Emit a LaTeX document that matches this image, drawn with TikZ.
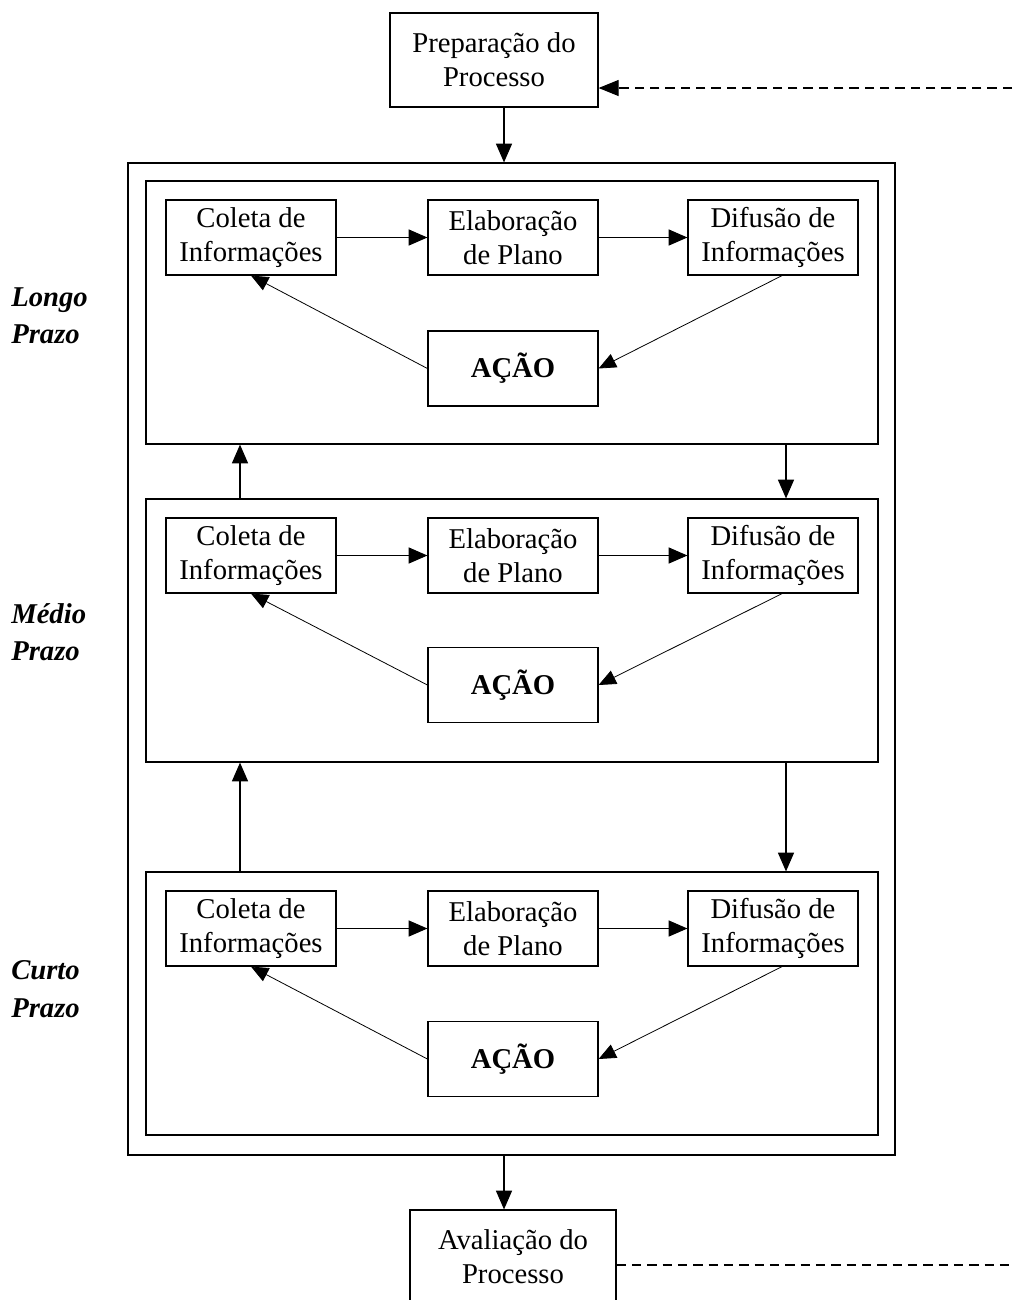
\documentclass[tikz,border=0pt]{standalone}
\usepackage{fontspec}
\setmainfont{Liberation Serif}
\usetikzlibrary{arrows.meta}
\tikzset{
  box/.style={draw, line width=0.9pt, align=center, inner sep=0pt, font=\fontsize{21.5}{25.5}\selectfont},
  small/.style={box, minimum width=127.5pt, minimum height=56.25pt},
  panel/.style={draw, line width=0.9pt, minimum width=549pt, minimum height=197.25pt, inner sep=0pt},
  arr/.style={line width=0.8pt, -{Triangle[length=14pt,width=12pt]}},
  thin/.style={line width=0.6pt, -{Triangle[length=13pt,width=11pt]}},
  term/.style={font=\fontsize{21.5}{28}\selectfont\bfseries\itshape, align=left, anchor=west, inner sep=0pt},
  dsh/.style={line width=0.8pt, dash pattern=on 7pt off 4.5pt}
}
\begin{document}
\begin{tikzpicture}[x=0.75pt,y=-0.75pt]
\useasboundingbox (0,0) rectangle (1018,1300);
\clip (0,0) rectangle (1018,1300);

\node[box, minimum width=156pt, minimum height=70.5pt] (prep) at (494,60) {Preparação do\\Processo};
\node[draw, line width=0.9pt, minimum width=575.25pt, minimum height=744pt, inner sep=0pt] (outer) at (511.5,659) {};
\node[box, minimum width=154.5pt, minimum height=75pt] (aval) at (513,1260)
  {\raisebox{5pt}{\renewcommand\arraystretch{1}\begin{tabular}{@{}c@{}}Avaliação do\\Processo\end{tabular}}};

\coordinate (dtop) at (1012,88);
\coordinate (dbot) at (1012,1265);
\draw[dsh, -{Triangle[length=15pt,width=12pt]}] (dtop) -- (dtop -| prep.east);
\draw[dsh] (dbot -| aval.east) -- (dbot);

\draw[arr] (prep.south -| 504,0) -- (outer.north -| 504,0);
\draw[arr] (outer.south -| 504,0) -- (aval.north -| 504,0);

% panels
\foreach \n/\py/\ry/\ay/\la/\lb in {1/312.5/237.5/368.5/Longo/Prazo, 2/630.5/555.5/685/Médio/Prazo, 3/1003.5/928.5/1059/Curto/Prazo}{
  \node[panel] (pan\n) at (512,\py) {};
  \node[small] (col\n) at (251,\ry) {Coleta de\\Informações};
  \node[small] (ela\n) at (513,\ry) {Elaboração\\de Plano};
  \node[small] (dif\n) at (773,\ry) {Difusão de\\Informações};
  \node[small, font=\fontsize{21.5}{25.5}\selectfont\bfseries] (aca\n) at (513,\ay) {\raisebox{4pt}{AÇÃO}};
  \draw[arr] (col\n.east) -- (ela\n.west);
  \draw[arr] (ela\n.east) -- (dif\n.west);
  \draw[thin] (dif\n.south -| 782,0) -- (aca\n.east);
  \draw[thin] (aca\n.west) -- (col\n.south);
}
\node[term] (t1) at (11,316) {Longo\\Prazo};
\node[term] (t2) at (11,632) {Médio\\Prazo};
\node[term] (t3) at (11,989) {Curto\\Prazo};

\coordinate (xl) at (240,0);
\coordinate (xr) at (786,0);
\draw[arr] (pan2.north -| xl) -- (pan1.south -| xl);
\draw[arr] (pan1.south -| xr) -- (pan2.north -| xr);
\draw[arr] (pan3.north -| xl) -- (pan2.south -| xl);
\draw[arr] (pan2.south -| xr) -- (pan3.north -| xr);
\end{tikzpicture}
\end{document}
